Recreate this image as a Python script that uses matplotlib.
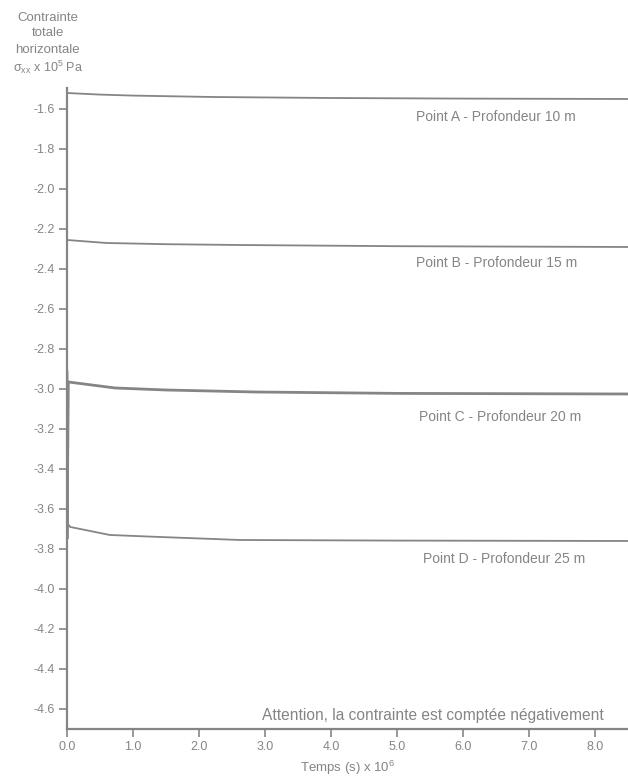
import matplotlib
matplotlib.use("Agg")
import matplotlib.pyplot as plt

plt.rcParams['font.family'] = ['Liberation Sans', 'DejaVu Sans']
plt.rcParams['mathtext.default'] = 'regular'

# data (time in 1e6 s, stress in 1e5 Pa)
t_a = [0.0, 0.5, 1.0, 2.2, 4.0, 6.0, 8.5]
sig_a = [-1.52, -1.528, -1.533, -1.54, -1.545, -1.548, -1.55]

t_b = [0.0, 0.6, 1.5, 2.6, 5.0, 8.5]
sig_b = [-2.255, -2.27, -2.276, -2.28, -2.286, -2.29]

t_c = [0.0, 0.0, 0.02, 0.73, 1.5, 2.85, 5.0, 8.5]
sig_c = [-2.915, -3.75, -2.965, -2.995, -3.005, -3.015, -3.022, -3.025]

t_d = [0.0, 0.05, 0.65, 1.41, 2.62, 5.0, 8.5]
sig_d = [-3.67, -3.69, -3.73, -3.74, -3.755, -3.758, -3.76]

labels = ["Point A - Profondeur 10 m", "Point B - Profondeur 15 m",
          "Point C - Profondeur 20 m", "Point D - Profondeur 25 m"]
label_x = [5.29, 5.29, 5.33, 5.39]
label_y = [-1.64, -2.37, -3.14, -3.85]

yticks = [-1.6, -1.8, -2.0, -2.2, -2.4, -2.6, -2.8, -3.0, -3.2, -3.4,
          -3.6, -3.8, -4.0, -4.2, -4.4, -4.6]
xticks = [0, 1, 2, 3, 4, 5, 6, 7, 8]

grey = '#858585'
txt = '#858585'

fig = plt.figure(figsize=(6.28, 7.78), dpi=100)
ax = fig.add_axes([0.1067, 0.0630, 0.8933, 0.8239])

ax.plot(t_a, sig_a, color=grey, lw=1.3)
ax.plot(t_b, sig_b, color=grey, lw=1.3)
ax.plot(t_c, sig_c, color=grey, lw=2.0)
ax.plot(t_d, sig_d, color=grey, lw=1.3)

for lab, x, y in zip(labels, label_x, label_y):
    ax.text(x, y, lab, color=txt, fontsize=10, va='center', ha='left')

ax.text(8.14, -4.635, "Attention, la contrainte est comptée négativement",
        color=txt, fontsize=11.2, ha='right', va='center')

ax.set_xlim(0, 8.5)
ax.set_ylim(-4.70, -1.495)
ax.set_yticks(yticks)
ax.set_yticklabels(["%.1f" % v for v in yticks])
ax.set_xticks(xticks)
ax.set_xticklabels(["%.1f" % v for v in xticks])

for s in ['top', 'right']:
    ax.spines[s].set_visible(False)
for s in ['left', 'bottom']:
    ax.spines[s].set_color(grey)
    ax.spines[s].set_linewidth(1.6)
ax.tick_params(axis='y', colors=grey, labelcolor=txt, labelsize=9,
               length=6, width=1.2, pad=3)
ax.tick_params(axis='x', colors=grey, labelcolor=txt, labelsize=9,
               length=6, width=1.2, pad=3)

ax.set_xlabel(r'Temps (s) x 10$^6$', color=txt, fontsize=9.5, labelpad=4)

fig.text(0.076, 0.977, "Contrainte", color=txt, fontsize=9.5, ha='center', va='center')
fig.text(0.076, 0.957, "totale", color=txt, fontsize=9.5, ha='center', va='center')
fig.text(0.076, 0.936, "horizontale", color=txt, fontsize=9.5, ha='center', va='center')
fig.text(0.076, 0.913, r'$\sigma_{xx}$ x 10$^5$ Pa', color=txt, fontsize=9,
         ha='center', va='center')

fig.savefig('out.png', dpi=100)
